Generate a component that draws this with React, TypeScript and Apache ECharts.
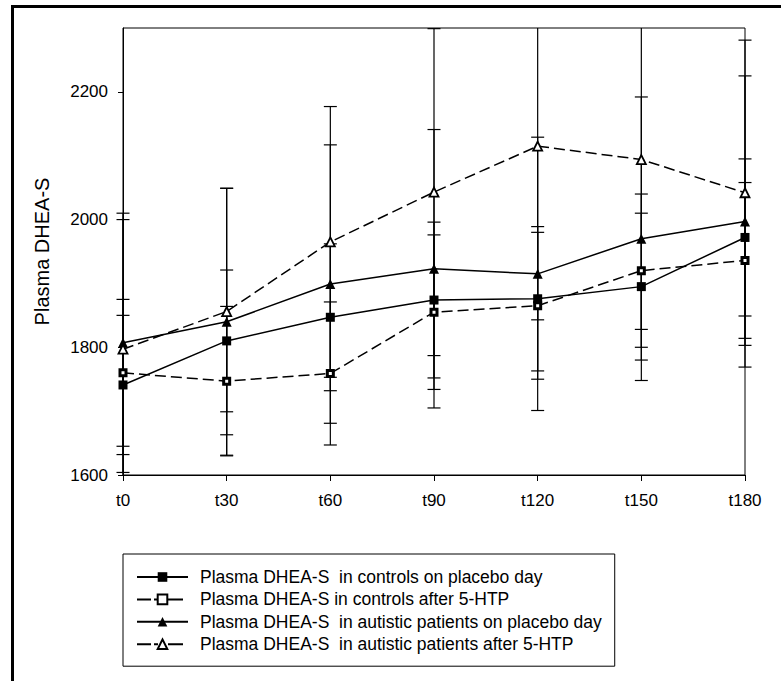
import React, { useEffect, useRef } from "react";
import * as echarts from "echarts";

const categories = ["t0", "t30", "t60", "t90", "t120", "t150", "t180"];
const yTicks = [1600, 1800, 2000, 2200];

const controlsPlacebo = [1741, 1810, 1847, 1874, 1876, 1895, 1972];
const controlsPlaceboErr = [109, 111, 115, 122, 113, 115, 123];
const controls5HTP = [1760, 1747, 1759, 1855, 1865, 1920, 1936];
const controls5HTPErr = [115, 117, 112, 121, 115, 120, 122];
const autisticPlacebo = [1807, 1840, 1899, 1923, 1915, 1970, 1997];
const autisticPlaceboErr = [203, 209, 218, 218, 214, 222, 228];
const autistic5HTP = [1797, 1856, 1965, 2043, 2115, 2094, 2042];
const autistic5HTPErr = [203, 193, 212, 256, 272, 266, 239];

const names = [
  "Plasma DHEA-S  in controls on placebo day",
  "Plasma DHEA-S in controls after 5-HTP",
  "Plasma DHEA-S  in autistic patients on placebo day",
  "Plasma DHEA-S  in autistic patients after 5-HTP",
];

const FONT = "'Liberation Sans', Arial, sans-serif";

function errSeries(id: string, means: number[], errs: number[]) {
  return {
    type: "custom",
    id,
    z: 1,
    silent: true,
    encode: { x: 0, y: 1 },
    data: means.map((m, i) => [i, m, errs[i]]),
    renderItem: (params: any, api: any) => {
      const i = api.value(0);
      const m = api.value(1);
      const e = api.value(2);
      const cs = params.coordSys;
      const top = cs.y;
      const bot = cs.y + cs.height;
      const hi = api.coord([i, m + e]);
      const lo = api.coord([i, m - e]);
      const x = hi[0];
      const y1 = Math.max(hi[1], top);
      const y2 = Math.min(lo[1], bot);
      const st = { stroke: "#000", lineWidth: 1.2 };
      const children: any[] = [
        { type: "line", shape: { x1: x, y1, x2: x, y2 }, style: st },
      ];
      const hw = 6.5;
      if (hi[1] >= top) {
        children.push({ type: "line", shape: { x1: x - hw, y1: hi[1], x2: x + hw, y2: hi[1] }, style: st });
      }
      if (lo[1] <= bot) {
        children.push({ type: "line", shape: { x1: x - hw, y1: lo[1], x2: x + hw, y2: lo[1] }, style: st });
      }
      return { type: "group", children };
    },
  };
}

export default function App() {
  const ref = useRef<HTMLDivElement>(null);
  useEffect(() => {
    if (!ref.current) return;
    const chart = echarts.init(ref.current, undefined, { renderer: "svg" });
    const solid = { color: "#000", width: 1.5, type: "solid" as any };
    const dashed = { color: "#000", width: 1.5, type: [11, 5] as any };
    const legendDash = { type: [14, 3, 4, 10, 15, 100] as any };
    chart.setOption({
      animation: false,
      backgroundColor: "#fff",
      textStyle: { fontFamily: FONT, color: "#000" },
      grid: {
        left: 123,
        top: 28,
        width: 622,
        height: 447,
        show: true,
        borderColor: "#000",
        borderWidth: 1,
        backgroundColor: "transparent",
      },
      xAxis: {
        type: "category",
        data: categories,
        boundaryGap: false,
        axisLine: { lineStyle: { color: "#000", width: 1 } },
        axisTick: { show: true, length: 6, lineStyle: { color: "#000" } },
        axisLabel: { fontSize: 17, color: "#000", margin: 17, fontFamily: FONT },
        splitLine: { show: false },
      },
      yAxis: {
        type: "value",
        min: yTicks[0],
        max: 2300,
        interval: 200,
        name: "Plasma DHEA-S",
        nameLocation: "middle",
        nameGap: 71,
        nameTextStyle: { fontSize: 20, color: "#000", fontFamily: FONT },
        axisLine: { show: true, lineStyle: { color: "#000", width: 1 } },
        axisTick: { show: true, length: 5, lineStyle: { color: "#000" } },
        axisLabel: {
          fontSize: 17,
          color: "#000",
          margin: 15,
          showMaxLabel: false,
          fontFamily: FONT,
          formatter: (v: number) => String(v),
        },
        splitLine: { show: false },
      },
      legend: {
        orient: "vertical",
        left: 123,
        top: 554,
        data: [
          { name: names[0] },
          { name: names[1], lineStyle: legendDash },
          { name: names[2] },
          { name: names[3], lineStyle: legendDash },
        ],
        borderColor: "#000",
        borderWidth: 1,
        padding: [14, 13, 13, 13],
        itemWidth: 51,
        itemHeight: 12,
        itemGap: 4.4,
        textStyle: { fontSize: 17.5, color: "#000", fontFamily: FONT, lineHeight: 18, padding: [0, 0, 0, 7] },
        selectedMode: false,
      },
      series: [
        errSeries("e1", controlsPlacebo, controlsPlaceboErr),
        errSeries("e2", controls5HTP, controls5HTPErr),
        errSeries("e3", autisticPlacebo, autisticPlaceboErr),
        errSeries("e4", autistic5HTP, autistic5HTPErr),
        {
          type: "line",
          name: names[0],
          data: controlsPlacebo,
          z: 5,
          symbol: "rect",
          symbolSize: 9,
          lineStyle: solid,
          itemStyle: { color: "#000", borderColor: "#000", borderWidth: 0 },
        },
        {
          type: "line",
          name: names[1],
          data: controls5HTP,
          z: 5,
          symbol: "rect",
          symbolSize: 6,
          lineStyle: dashed,
          itemStyle: { color: "#fff", borderColor: "#000", borderWidth: 3 },
        },
        {
          type: "line",
          name: names[2],
          data: autisticPlacebo,
          z: 5,
          symbol: "triangle",
          symbolSize: 10,
          lineStyle: solid,
          itemStyle: { color: "#000", borderColor: "#000", borderWidth: 0 },
        },
        {
          type: "line",
          name: names[3],
          data: autistic5HTP,
          z: 5,
          symbol: "triangle",
          symbolSize: 9,
          lineStyle: dashed,
          itemStyle: { color: "#fff", borderColor: "#000", borderWidth: 1.8 },
        },
      ],
    });
    return () => chart.dispose();
  }, []);
  return (
    <div style={{ position: "fixed", left: 0, top: 0, width: 781, height: 681, background: "#fff", overflow: "hidden" }}>
      <div ref={ref} style={{ position: "absolute", left: 0, top: 0, width: 781, height: 681 }} />
      <div
        style={{
          position: "absolute",
          left: 11,
          top: 5,
          width: 800,
          height: 700,
          borderTop: "3px solid #000",
          borderLeft: "3px solid #000",
          boxSizing: "border-box",
          pointerEvents: "none",
        }}
      />
    </div>
  );
}
